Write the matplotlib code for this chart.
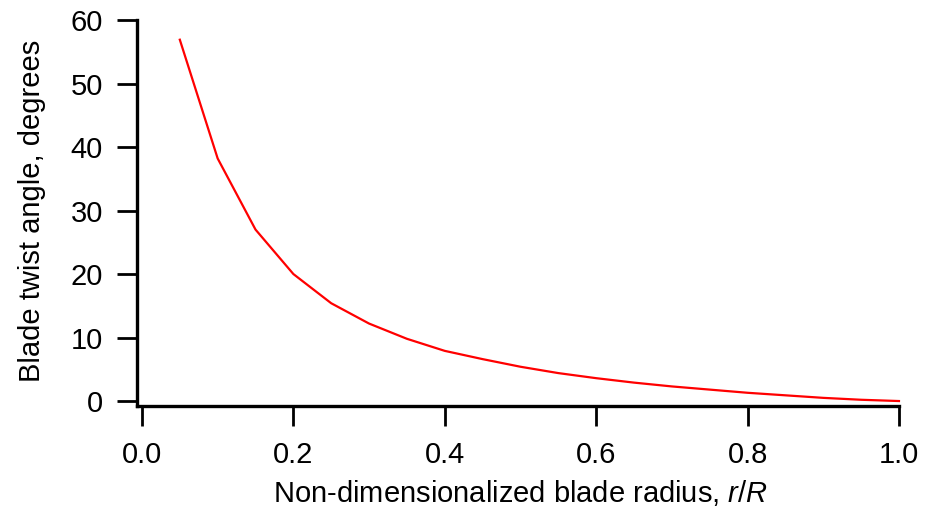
import numpy as np
import matplotlib
matplotlib.use("Agg")
import matplotlib.pyplot as plt

# Blade twist distribution along the span
r_over_R = [0.05, 0.10, 0.15, 0.20, 0.25, 0.30, 0.35, 0.40, 0.45, 0.50,
            0.55, 0.60, 0.65, 0.70, 0.75, 0.80, 0.85, 0.90, 0.95, 1.00]
twist_deg = [56.9, 38.2, 27.0, 20.0, 15.4, 12.2, 9.8, 7.9, 6.6, 5.4,
             4.4, 3.6, 2.9, 2.3, 1.8, 1.3, 0.9, 0.5, 0.2, 0.0]

x_ticks = [0.0, 0.2, 0.4, 0.6, 0.8, 1.0]
x_tick_labels = ["0.0", "0.2", "0.4", "0.6", "0.8", "1.0"]
y_ticks = [0, 10, 20, 30, 40, 50, 60]

plt.rcParams["font.family"] = ["Liberation Sans", "DejaVu Sans"]
plt.rcParams["font.size"] = 21
plt.rcParams["mathtext.fontset"] = "custom"
plt.rcParams["mathtext.rm"] = "Liberation Sans"
plt.rcParams["mathtext.it"] = "Liberation Sans:italic"

fig = plt.figure(figsize=(9.34, 5.07), dpi=100)
ax = fig.add_axes([0.152, 0.209, 0.8105, 0.7515])

ax.plot(r_over_R, twist_deg, color="#ff0000", linewidth=1.6, clip_on=False)

ax.set_xlim(0, 1)
ax.set_ylim(0, 60)
ax.set_xticks(x_ticks)
ax.set_xticklabels(x_tick_labels)
ax.set_yticks(y_ticks)

ax.spines["top"].set_visible(False)
ax.spines["right"].set_visible(False)
for side in ["left", "bottom"]:
    ax.spines[side].set_position(("outward", 3.6))
    ax.spines[side].set_linewidth(2.4)
ax.spines["left"].set_bounds(-0.8, 60)
ax.spines["bottom"].set_bounds(-0.0066, 1)

ax.tick_params(axis="both", direction="out", length=14.4, width=2.0, color="black")
ax.tick_params(axis="y", pad=10)
ax.tick_params(axis="x", pad=11)

ax.set_xlabel("Non-dimensionalized blade radius, $\\mathit{r/R}$", labelpad=6)
ax.set_ylabel("Blade twist angle, degrees", labelpad=18)

fig.savefig("out.png", dpi=100)
